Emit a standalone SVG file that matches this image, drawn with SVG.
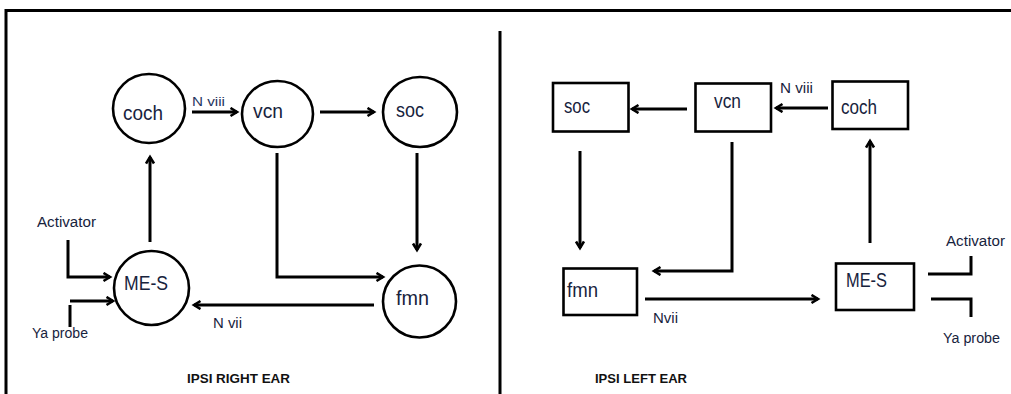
<svg xmlns="http://www.w3.org/2000/svg" width="1011" height="394" viewBox="0 0 1011 394">
<defs>
<marker id="ah" markerUnits="userSpaceOnUse" markerWidth="12" markerHeight="12" refX="8" refY="5" orient="auto">
<path d="M1.5,1 L8,5 L1.5,9" fill="none" stroke="#000" stroke-width="2.6"/>
</marker>
<style>
.frame{stroke:#000;stroke-width:3;fill:none}
.node{fill:#fff;stroke:#000;stroke-width:2.6}
.c{fill:none;stroke:#000;stroke-width:3}
.a{marker-end:url(#ah)}
text{font-family:"Liberation Sans",Arial,sans-serif;fill:#17233d}
.big{font-size:19.5px}
.sm{font-size:14px}
.lbl{font-size:13px;fill:#1f3560}
.ttl{font-size:13px;font-weight:bold;fill:#111}
</style>
</defs>
<rect width="1011" height="394" fill="#fff"/>
<g id="frame">
<path class="frame" d="M6,394 V10.5 H1011"/>
<path class="frame" d="M500,31 V394" stroke-width="2.5"/>
</g>
<g id="connectors">
<path class="c a" d="M192,112 H237"/>
<path class="c a" d="M320,112 H374"/>
<path class="c a" d="M417,153 V250"/>
<path class="c a" d="M277,153 V277 H383"/>
<path class="c a" d="M150,242 V157"/>
<path class="c a" d="M68,240 V277 H110"/>
<path class="c a" d="M70,301 H113"/>
<path class="c" d="M70,305 V327"/>
<path class="c a" d="M374,305 H194"/>
<path class="c a" d="M687,109 H632"/>
<path class="c a" d="M828,108 H776"/>
<path class="c a" d="M580,151 V248"/>
<path class="c a" d="M732,142 V271 H654"/>
<path class="c a" d="M645,299 H818"/>
<path class="c a" d="M870,243 V141"/>
<path class="c" d="M928,274 H971 V256"/>
<path class="c" d="M931,299 H971 V317"/>
<text class="lbl" x="192" y="106" textLength="33" lengthAdjust="spacingAndGlyphs">N viii</text>
<text class="sm" x="213" y="328" textLength="29" lengthAdjust="spacingAndGlyphs">N vii</text>
<text class="sm" x="780" y="93" textLength="33" lengthAdjust="spacingAndGlyphs">N viii</text>
<text class="sm" x="653" y="323" textLength="25" lengthAdjust="spacingAndGlyphs">Nvii</text>
<text class="sm" x="37" y="227" textLength="59" lengthAdjust="spacingAndGlyphs">Activator</text>
<text class="sm" x="32" y="338" textLength="56" lengthAdjust="spacingAndGlyphs">Ya probe</text>
<text class="sm" x="946" y="246" textLength="59" lengthAdjust="spacingAndGlyphs">Activator</text>
<text class="sm" x="943" y="343" textLength="57" lengthAdjust="spacingAndGlyphs">Ya probe</text>
</g>
<g id="r-coch"><ellipse class="node" cx="149" cy="108.5" rx="36" ry="34.5"/><text class="big" x="123" y="120" textLength="40" lengthAdjust="spacingAndGlyphs">coch</text></g>
<g id="r-vcn"><ellipse class="node" cx="277.5" cy="114" rx="35.5" ry="33"/><text class="big" x="253" y="118" textLength="30" lengthAdjust="spacingAndGlyphs">vcn</text></g>
<g id="r-soc"><ellipse class="node" cx="420" cy="112" rx="37" ry="35"/><text class="big" x="396" y="117" textLength="28" lengthAdjust="spacingAndGlyphs">soc</text></g>
<g id="r-mes"><ellipse class="node" cx="151.5" cy="288" rx="37.5" ry="37"/><text class="big" x="124" y="290" font-size="20.5" textLength="44" lengthAdjust="spacingAndGlyphs">ME-S</text></g>
<g id="r-fmn"><ellipse class="node" cx="419.5" cy="301.5" rx="36.5" ry="36"/><text class="big" x="396" y="305" textLength="33" lengthAdjust="spacingAndGlyphs">fmn</text></g>
<g id="l-soc"><rect class="node" x="553" y="83" width="75.5" height="48.5"/><text class="big" x="564" y="113" font-size="17" textLength="26" lengthAdjust="spacingAndGlyphs">soc</text></g>
<g id="l-vcn"><rect class="node" x="695.5" y="83.5" width="75.5" height="48"/><text class="big" x="714" y="108" font-size="17" textLength="27" lengthAdjust="spacingAndGlyphs">vcn</text></g>
<g id="l-coch"><rect class="node" x="832.5" y="81.5" width="75.5" height="47.5"/><text class="big" x="841" y="114" font-size="18" textLength="36" lengthAdjust="spacingAndGlyphs">coch</text></g>
<g id="l-fmn"><rect class="node" x="563.5" y="268.5" width="73.5" height="46.5"/><text class="big" x="567" y="297" font-size="18" textLength="31" lengthAdjust="spacingAndGlyphs">fmn</text></g>
<g id="l-mes"><rect class="node" x="836" y="263.5" width="78" height="46.5"/><text class="big" x="846" y="287" font-size="18" textLength="41" lengthAdjust="spacingAndGlyphs">ME-S</text></g>
<g id="titles">
<text class="ttl" x="187" y="383" textLength="103" lengthAdjust="spacingAndGlyphs">IPSI RIGHT EAR</text>
<text class="ttl" x="595" y="383" textLength="92" lengthAdjust="spacingAndGlyphs">IPSI LEFT EAR</text>
</g>
</svg>
